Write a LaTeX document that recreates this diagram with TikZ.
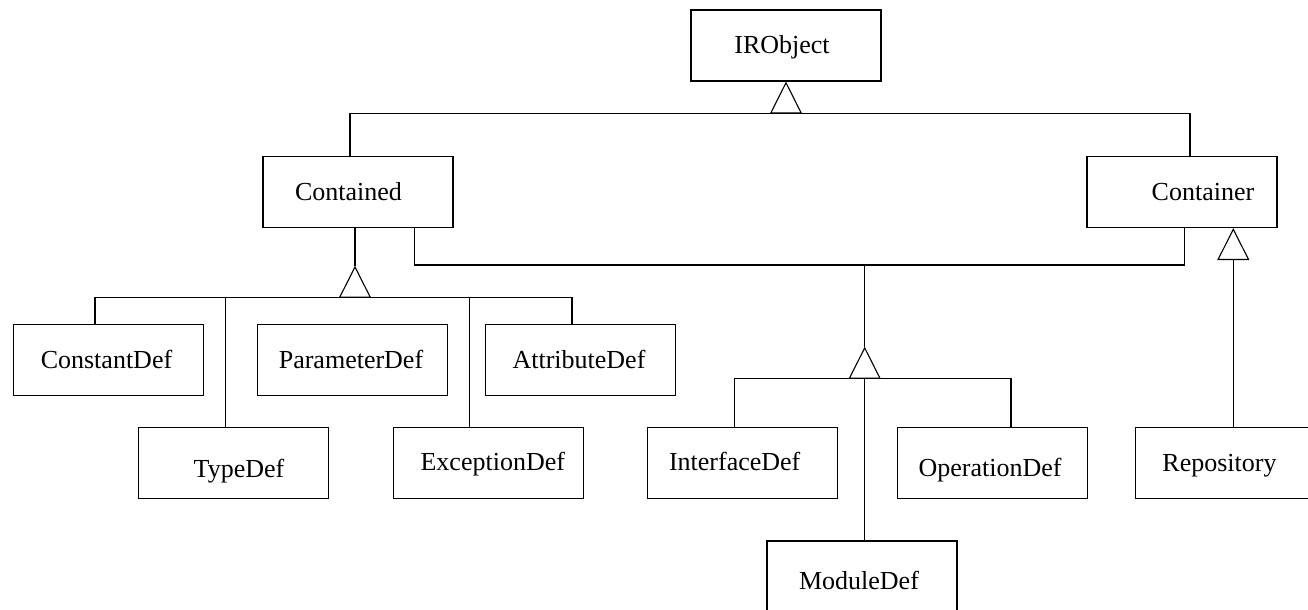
\documentclass[tikz,border=0pt]{standalone}
\usepackage{fontspec}
\setmainfont{Liberation Serif}
\usetikzlibrary{arrows.meta}

\tikzset{
  cls/.style={draw, rectangle, minimum width=95pt, minimum height=35.5pt, inner sep=0pt},
  lbl/.style={anchor=base, inner sep=0pt, font=\fontsize{13}{15}\selectfont},
  isa/.style={-{Triangle[open, length=16pt, width=16pt]}}
}

\begin{document}
\begin{tikzpicture}[x=0.5pt, y=-0.5pt, line width=0.55pt]
  \useasboundingbox (0,0) rectangle (1308,610);

  % classes
  \node[cls] (irobject) at (786,45.5) {};
  \node[lbl] (irobjectT) at (782,54) {IRObject};
  \node[cls] (contained) at (358,192) {};
  \node[lbl] (containedT) at (348.5,200) {Contained};
  \node[cls] (container) at (1182,192) {};
  \node[lbl] (containerT) at (1203,200) {Container};

  \node[cls] (constantdef) at (108.7,359.8) {};
  \node[lbl] (constantdefT) at (106.5,368.3) {ConstantDef};
  \node[cls] (parameterdef) at (352.5,359.8) {};
  \node[lbl] (parameterdefT) at (351,368.3) {ParameterDef};
  \node[cls] (attributedef) at (580.3,359.8) {};
  \node[lbl] (attributedefT) at (579,368.3) {AttributeDef};

  \node[cls] (typedef) at (233.5,462.8) {};
  \node[lbl] (typedefT) at (239,477.7) {TypeDef};
  \node[cls] (exceptiondef) at (488.3,462.8) {};
  \node[lbl] (exceptiondefT) at (492.8,470.7) {ExceptionDef};
  \node[cls] (interfacedef) at (742.8,462.8) {};
  \node[lbl] (interfacedefT) at (734.7,470.7) {InterfaceDef};
  \node[cls] (operationdef) at (992.3,462.8) {};
  \node[lbl] (operationdefT) at (990,476.7) {OperationDef};
  \node[cls] (repository) at (1230.7,462.8) {};
  \node[lbl] (repositoryT) at (1219.5,471.7) {Repository};

  \node[cls] (moduledef) at (862,576.5) {};
  \node[lbl] (moduledefT) at (859,589.3) {ModuleDef};

  % IRObject
  \coordinate (irBus) at (786,113.3);
  \draw[isa] (irBus) -- (irobject.south);
  \draw ([xshift=-4pt]contained.north) |- (irBus) -| ([xshift=4pt]container.north);

  % Contained
  \coordinate (cdTip) at (355,265.7);
  \coordinate (cdBus) at (355,297.3);
  \draw (contained.south -| cdTip) -- (cdTip);
  \draw[isa] (cdBus) -- (cdTip);
  \draw ([xshift=-6.85pt]constantdef.north) |- (cdBus) -| ([xshift=-4.15pt]attributedef.north);
  \draw ([xshift=-4.1pt]typedef.north) |- (cdBus);
  \draw ([xshift=-9.5pt]exceptiondef.north) |- (cdBus);

  % Contained + Container
  \coordinate (mdJoin) at (864.7,265);
  \coordinate (mdTip) at (864.7,346.7);
  \coordinate (mdBus) at (864.7,378.3);
  \draw ([xshift=28.35pt]contained.south) |- (mdJoin) -| ([xshift=1.15pt]container.south);
  \draw (mdJoin) -- (mdTip);
  \draw[isa] (mdBus) -- (mdTip);
  \draw ([xshift=-4.25pt]interfacedef.north) |- (mdBus) -| ([xshift=9.35pt]operationdef.north);
  \draw (mdBus) -- (mdBus |- moduledef.north);

  % Container
  \coordinate (rpBase) at (1233.3,259.3);
  \draw[isa] (rpBase) -- (rpBase |- container.south);
  \draw (rpBase) -- (rpBase |- repository.north);
\end{tikzpicture}
\end{document}
